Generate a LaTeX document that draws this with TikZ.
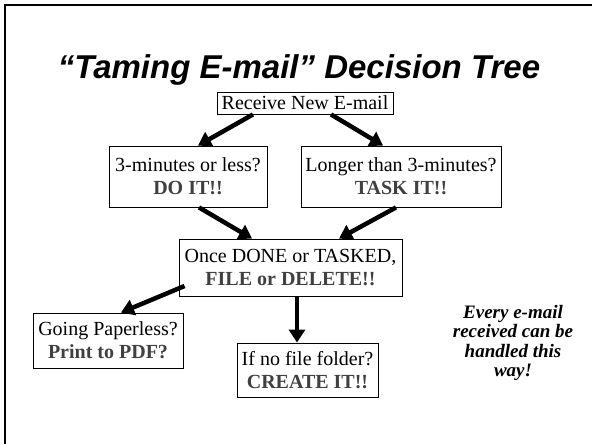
\documentclass[tikz,border=0pt]{standalone}
\usepackage{fontspec}
\setmainfont{Liberation Serif}
\newfontfamily\titlefont{Liberation Sans}
\usetikzlibrary{arrows.meta}
\definecolor{boldgray}{RGB}{64,64,64}
\tikzset{
  box/.style={draw=black, line width=0.9pt, fill=white, inner sep=0pt, align=center,
    font=\fontsize{20}{23}\selectfont},
  bigarrow/.style={line width=4.5pt, -{Triangle[length=13pt,width=16pt]}}
}
\newcommand{\hl}[1]{\textbf{\textcolor{boldgray}{#1}}}
\begin{document}
\begin{tikzpicture}[x=1pt,y=-1pt]
\useasboundingbox (0,0) rectangle (592,444);
\fill[white] (0,0) rectangle (592,444);
% slide border (top and left edges)
\draw[line width=2.5pt, black] (5,444) -- (5,5) -- (592,5);
% title
\node (title) at (299,70) {\titlefont\bfseries\itshape\fontsize{33}{38}\selectfont “Taming E-mail” Decision Tree};
% boxes
\node[box, minimum width=176pt, minimum height=22pt] (recv) at (305,103) {Receive New E-mail};
\node[box, minimum width=158pt, minimum height=61pt] (short) at (188,176.5) {3-minutes or less?\\ \hl{DO IT!!}};
\node[box, minimum width=200pt, minimum height=61pt] (long) at (401,176.5) {Longer than 3-minutes?\\ \hl{TASK IT!!}};
\node[box, minimum width=223pt, minimum height=57pt] (once) at (290.5,267.5) {Once DONE or TASKED,\\ \hl{FILE or DELETE!!}};
\node[box, minimum width=150pt, minimum height=55pt] (paper) at (108,340.5) {Going Paperless?\\ \hl{Print to PDF?}};
\node[box, minimum width=141pt, minimum height=54pt] (folder) at (307.5,370) {If no file folder?\\ \hl{CREATE IT!!}};
% side note
\node[align=center, font=\fontsize{19}{19.5}\selectfont\bfseries\itshape] (note) at (513,343)
  {Every e-mail\\received can be\\handled this\\way!};
% arrows
\draw[bigarrow] ([xshift=-52pt]recv.south) -- ([xshift=10pt]short.north);
\draw[bigarrow] ([xshift=26pt]recv.south) -- ([xshift=-18pt]long.north);
\draw[bigarrow] ([xshift=11pt]short.south) -- ([xshift=-38.5pt]once.north);
\draw[bigarrow] ([xshift=-5pt]long.south) -- ([xshift=48.5pt]once.north);
\draw[bigarrow] ([xshift=6pt,yshift=-18.5pt]once.west) -- ([xshift=13pt]paper.north);
\draw[bigarrow] ([xshift=6.5pt]once.south) -- ([xshift=-10.5pt]folder.north);
\end{tikzpicture}
\end{document}
